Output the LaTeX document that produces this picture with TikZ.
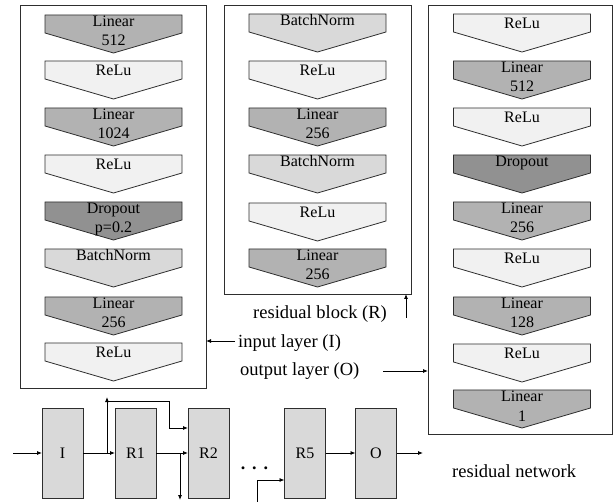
\documentclass[tikz,border=0pt]{standalone}
\usepackage{fontspec}
\setmainfont{Liberation Serif}
\usetikzlibrary{arrows.meta}

\definecolor{linfill}{gray}{0.70}
\definecolor{relufill}{gray}{0.945}
\definecolor{bnfill}{gray}{0.85}
\definecolor{dropfill}{gray}{0.57}
\definecolor{blockfill}{gray}{0.85}
\definecolor{edge}{gray}{0.18}

\tikzset{
  chevshape/.style={draw=edge, line width=0.8pt, line join=miter},
  lin/.style={chevshape, fill=linfill},
  relu/.style={chevshape, fill=relufill},
  bn/.style={chevshape, fill=bnfill},
  drop/.style={chevshape, fill=dropfill},
  chevtext/.style={font=\fontsize{16}{19}\selectfont, inner sep=0pt, anchor=base},
  panel/.style={draw=edge, line width=0.9pt, inner sep=0pt, outer sep=0pt},
  lbl/.style={font=\fontsize{18.5}{22}\selectfont, inner sep=0pt, anchor=base west},
  blk/.style={draw=edge, fill=blockfill, line width=0.8pt, minimum width=41pt,
    minimum height=90pt, inner sep=0pt, outer sep=0pt, font=\fontsize{16}{19}\selectfont},
  arr/.style={-{Latex[length=5pt,width=4pt]}, line width=0.8pt},
  conn/.style={line width=0.8pt},
}

% one-line chevron: left x, top y, style, name, baseline offset, text
\newcommand\chevA[6]{%
  \draw[#3] (#1,#2) -- ++(137,0) -- ++(0,18) -- ++(-68.5,20) -- ++(-68.5,-20) -- cycle;
  \node[chevtext] (#4) at ({#1+68.5},{#2+#5}) {#6};
}
% two-line chevron: left x, top y, style, name, first line, second line
\newcommand\chevB[6]{%
  \draw[#3] (#1,#2) -- ++(137,0) -- ++(0,18) -- ++(-68.5,20) -- ++(-68.5,-20) -- cycle;
  \node[chevtext] (#4) at ({#1+68.5},{#2+12}) {#5};
  \node[chevtext] (#4b) at ({#1+68.5},{#2+31}) {#6};
}

\begin{document}
\begin{tikzpicture}[x=1pt,y=-1pt]
\useasboundingbox (0,0) rectangle (613,502);

% panels
\node[panel, minimum width=185.5pt, minimum height=383pt] (inpanel) at (113.25,196.5) {};
\node[panel, minimum width=187pt, minimum height=289pt] (respanel) at (317.5,149.5) {};
\node[panel, minimum width=184pt, minimum height=429pt] (outpanel) at (520,219.5) {};

% input layer
\chevB{45}{15}{lin}{i1}{Linear}{512}
\chevA{45}{61}{relu}{i2}{15}{ReLu}
\chevB{45}{108}{lin}{i3}{Linear}{1024}
\chevA{45}{155}{relu}{i4}{15}{ReLu}
\chevB{45}{202}{drop}{i5}{Dropout}{p=0.2}
\chevA{45}{249}{bn}{i6}{12}{BatchNorm}
\chevB{45}{297}{lin}{i7}{Linear}{256}
\chevA{45}{343}{relu}{i8}{15}{ReLu}

% residual block
\chevA{249}{14}{bn}{r1}{12}{BatchNorm}
\chevA{249}{61}{relu}{r2}{15}{ReLu}
\chevB{249}{108}{lin}{r3}{Linear}{256}
\chevA{249}{155}{bn}{r4}{12}{BatchNorm}
\chevA{249}{203}{relu}{r5}{15}{ReLu}
\chevB{249}{249}{lin}{r6}{Linear}{256}

% output layer
\chevA{453.5}{14}{relu}{o1}{15}{ReLu}
\chevB{453.5}{61}{lin}{o2}{Linear}{512}
\chevA{453.5}{108}{relu}{o3}{15}{ReLu}
\chevA{453.5}{155}{drop}{o4}{12}{Dropout}
\chevB{453.5}{202}{lin}{o5}{Linear}{256}
\chevA{453.5}{249}{relu}{o6}{15}{ReLu}
\chevB{453.5}{297}{lin}{o7}{Linear}{128}
\chevA{453.5}{344}{relu}{o8}{15}{ReLu}
\chevB{453.5}{390}{lin}{o9}{Linear}{1}

% captions with pointers
\node[lbl] (reslbl) at (253,319) {residual block (R)};
\coordinate (restail) at (406,318);
\draw[arr] (restail) -- (restail |- respanel.south);

\node[lbl] (inlbl) at (238,348) {input layer (I)};
\coordinate (intail) at (235,341);
\draw[arr] (intail) -- (intail -| inpanel.east);

\node[lbl] (outlbl) at (240,376) {output layer (O)};
\coordinate (outtail) at (383,371);
\draw[arr] (outtail) -- (outtail -| outpanel.west);

\node[lbl] (netlbl) at (452,477) {residual network};

% residual network
\node[blk] (I) at (62.5,453) {I};
\node[blk] (R1) at (135.5,453) {R1};
\node[blk] (R2) at (208.5,453) {R2};
\node[blk] (R5) at (305,453) {R5};
\node[blk] (O) at (376,453) {O};
\node[inner sep=0pt, anchor=base, font=\fontsize{18}{20}\selectfont\bfseries] (dots) at (254.5,469) {.\hspace{7pt}.\hspace{7pt}.};

\coordinate (src) at (13,453);
\coordinate (sink) at (423,453);
\draw[arr] (src) -- (I.west);
\draw[arr] (I.east) -- (R1.west);
\draw[arr] (R1.east) -- (R2.west);
\draw[arr] (R5.east) -- (O.west);
\draw[arr] (O.east) -- (sink);

% skip connections
\coordinate (sk1) at (107,453);
\coordinate (sk1top) at (107,397);
\coordinate (sk1h) at (107,401);
\coordinate (sk1c) at (169,401);
\draw[arr] (sk1) -- (sk1top);
\draw[arr] (sk1h) -- (sk1c) |- ([yshift=25pt]R2.west);

\coordinate (sk2) at (180,453);
\coordinate (sk2end) at (180,500);
\draw[arr] (sk2) -- (sk2end);

\coordinate (sk5) at (257,503);
\draw[arr] (sk5) |- ([yshift=-27pt]R5.west);
\end{tikzpicture}
\end{document}
